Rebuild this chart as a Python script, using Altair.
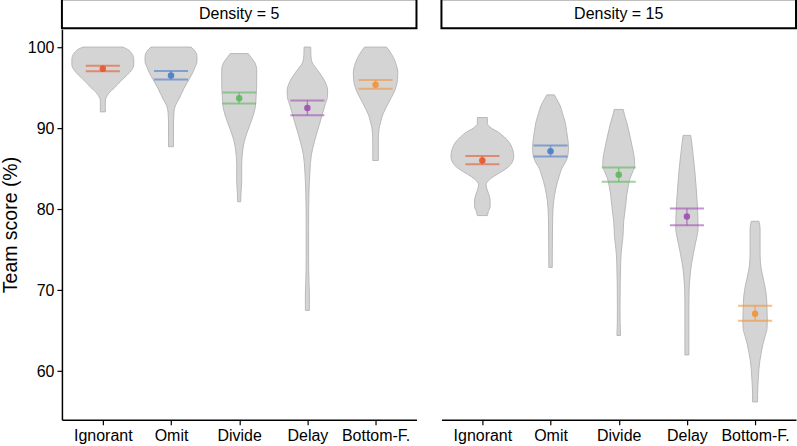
import altair as alt
import pandas as pd

# ---------------------------------------------------------------- data
categories = ["Ignorant", "Omit", "Divide", "Delay", "Bottom-F."]
palette = ["#E4572E", "#4A7CC9", "#5DB85D", "#9E4FB0", "#F39237"]

# mean team score with 95% CI, per strategy
mean_d5 = [97.33, 96.50, 93.67, 92.49, 95.36]
ci_lo_d5 = [97.00, 96.00, 93.02, 91.58, 94.87]
ci_hi_d5 = [97.70, 97.05, 94.38, 93.40, 95.94]

mean_d15 = [86.00, 87.15, 84.25, 79.08, 67.09]
ci_lo_d15 = [85.55, 86.50, 83.38, 78.00, 66.23]
ci_hi_d15 = [86.54, 87.85, 85.14, 80.06, 68.07]

# violin outlines: score levels and kernel density (relative) at each level
d5_ignorant_score = [100.0, 99.7, 99.2, 98.5, 97.8, 97.2, 96.5, 95.8, 95.0, 94.3, 93.8, 93.4, 92.5, 92.0]
d5_ignorant_dens = [20, 25, 29, 31, 31, 29, 24, 18, 12, 6, 3.5, 2.5, 2.5, 2.5]

d5_omit_score = [100.0, 99.5, 98.8, 98.2, 97.5, 96.9, 96.0, 94.9, 93.6, 92.8, 92.0, 90.5, 89.0, 87.7]
d5_omit_dens = [20, 24, 26, 26, 24, 22, 18, 13, 8, 4.5, 3, 2.5, 2.5, 2.5]

d5_divide_score = [99.2, 98.7, 98.0, 97.2, 95.5, 94.0, 92.5, 91.0, 89.5, 88.3, 87.2, 85.5, 83.5, 82.0, 80.9]
d5_divide_dens = [9, 12, 16, 17.5, 17.5, 17, 16, 12.5, 8, 5, 3.5, 2.5, 2.5, 1.8, 1.5]

d5_delay_score = [100.0, 99.0, 98.2, 97.5, 96.9, 96.2, 95.5, 94.6, 93.8, 92.8, 91.5, 90.3, 89.2, 88.3,
                  86.7, 84.6, 82.0, 78.0, 74.0, 71.0, 69.5, 68.2, 67.5]
d5_delay_dens = [3.3, 3.5, 4.5, 8, 11.7, 15.5, 18.5, 20.3, 20, 17.5, 14.5, 11.7, 9, 7,
                 4, 2.5, 1.6, 1.2, 1.2, 1.6, 2, 2, 2]

d5_bottom_score = [100.0, 99.5, 98.6, 97.7, 96.9, 96.0, 95.3, 94.3, 93.2, 92.4, 91.6, 90.7, 89.9, 88.5, 87.0, 86.0]
d5_bottom_dens = [11, 14, 18.3, 21, 22.3, 22, 21, 18, 13.3, 10, 7, 5, 3.5, 2.8, 2.8, 2.8]

d15_ignorant_score = [91.3, 90.6, 90.0, 89.5, 88.9, 88.3, 87.5, 86.5, 85.8, 85.2, 84.6, 84.0, 83.5, 83.0,
                      82.5, 81.8, 81.0, 80.3, 79.7, 79.2]
d15_ignorant_dens = [5, 5, 9, 16, 22, 26.5, 30, 31.5, 30, 26, 19, 11, 6, 3.8,
                     4.5, 6.5, 7.8, 7.8, 6, 5]

d15_omit_score = [94.1, 93.5, 92.8, 91.8, 90.8, 89.7, 88.7, 87.7, 86.7, 85.8, 85.0, 84.2, 83.4, 82.5,
                  81.7, 80.1, 78.0, 75.0, 72.8]
d15_omit_dens = [3.7, 6.5, 9.5, 12, 14.5, 16, 17.2, 18, 17.5, 15, 11.2, 9, 7, 5.2,
                 4, 2.5, 2, 1.8, 1.7]

d15_divide_score = [92.3, 91.5, 90.8, 89.8, 88.7, 87.7, 86.7, 85.4, 84.6, 83.8, 82.8, 81.7, 80.5, 79.5,
                    78.5, 77.5, 76.5, 75.5, 74.5, 73.5, 71.0, 68.0, 66.0, 64.4]
d15_divide_dens = [4.5, 6, 7.8, 9.8, 11.8, 13.5, 15.2, 16, 14, 11.3, 9.5, 8, 7, 6,
                   5, 4.6, 4.2, 3.2, 2.4, 2, 1.5, 1.3, 1.4, 1.8]

d15_delay_score = [89.1, 88.0, 86.7, 84.6, 82.6, 80.5, 79.0, 77.6, 76.6, 75.6, 74.5, 73.5, 72.5, 71.5,
                   70.0, 68.0, 65.3, 63.0, 62.0]
d15_delay_dens = [3.8, 5, 6.2, 8, 9.3, 10.5, 11, 11.2, 10, 8.3, 6.5, 5, 3.8, 3,
                  2.2, 2, 2, 2, 2]

d15_bottom_score = [78.5, 77.6, 76.5, 75.6, 74.5, 73.5, 72.5, 71.5, 70.5, 69.4, 68.4, 67.4, 66.3, 65.3,
                    64.3, 63.3, 62.2, 61.2, 60.2, 59.2, 58.2, 57.1, 56.2]
d15_bottom_dens = [3.8, 5, 5, 5, 5, 5.3, 6.3, 8, 9.8, 11.2, 11.8, 12, 12.2, 12,
                   10, 7.8, 6, 4.7, 3.8, 3.3, 2.8, 2.5, 2.5]

outlines = {
    5: [(d5_ignorant_score, d5_ignorant_dens), (d5_omit_score, d5_omit_dens),
        (d5_divide_score, d5_divide_dens), (d5_delay_score, d5_delay_dens),
        (d5_bottom_score, d5_bottom_dens)],
    15: [(d15_ignorant_score, d15_ignorant_dens), (d15_omit_score, d15_omit_dens),
         (d15_divide_score, d15_divide_dens), (d15_delay_score, d15_delay_dens),
         (d15_bottom_score, d15_bottom_dens)],
}
summaries = {5: (mean_d5, ci_lo_d5, ci_hi_d5), 15: (mean_d15, ci_lo_d15, ci_hi_d15)}

DENS_TO_X = 1 / 68.3   # density units -> category-axis units
CAP = 0.25             # half-width of the CI caps

# ---------------------------------------------------------------- styling
FONT = "Liberation Sans"
PANEL_W, PANEL_H = 355, 391
x_scale = alt.Scale(domain=[0.4, 5.6], nice=False, zero=False)
y_scale = alt.Scale(domain=[54.0, 102.2], nice=False, zero=False)
color_scale = alt.Scale(domain=categories, range=palette)

label_expr = "[" + ",".join(f"'{c}'" for c in categories) + "][datum.value - 1]"
x_axis = alt.Axis(values=[1, 2, 3, 4, 5], labelExpr=label_expr, title=None, grid=False,
                  domainColor="black", domainWidth=1.5, tickColor="black", tickWidth=1.2,
                  tickSize=5, labelPadding=3, labelColor="black", labelFont=FONT,
                  labelFontSize=16)
y_axis_left = alt.Axis(values=[60, 70, 80, 90, 100], title="Team score (%)", grid=False,
                       domainColor="black", domainWidth=1.5, tickColor="black", tickWidth=1.2,
                       tickSize=5, labelPadding=3, labelColor="black", labelFont=FONT,
                       labelFontSize=16, titleFont=FONT, titleFontSize=19.5,
                       titleFontWeight="normal", titleColor="black",
                       titleX=-45, titleY=PANEL_H / 2, titleBaseline="alphabetic",
                       titleAlign="center")


def panel(density, y_axis):
    rows = []
    for i, (scores, dens) in enumerate(outlines[density]):
        for s, d in zip(scores, dens):
            rows.append({"cat": categories[i], "idx": i + 1, "score": s,
                         "lo": i + 1 - d * DENS_TO_X, "hi": i + 1 + d * DENS_TO_X})
    vdf = pd.DataFrame(rows)

    means, los, his = summaries[density]
    sdf = pd.DataFrame({"cat": categories, "idx": [1, 2, 3, 4, 5],
                        "mean": means, "ci_lo": los, "ci_hi": his})
    sdf["cap_l"] = sdf["idx"] - CAP
    sdf["cap_r"] = sdf["idx"] + CAP

    violins = alt.Chart(vdf).mark_area(
        orient="horizontal", interpolate="monotone",
        fill="#d4d4d4", stroke="#b3b3b3", strokeWidth=0.9
    ).encode(
        y=alt.Y("score:Q", scale=y_scale, axis=y_axis),
        x=alt.X("lo:Q", scale=x_scale, axis=x_axis),
        x2="hi:Q",
        detail="cat:N",
    )

    color = alt.Color("cat:N", scale=color_scale, legend=None)
    base = alt.Chart(sdf)
    stem = base.mark_rule(strokeWidth=1.5, opacity=0.6).encode(
        x=alt.X("idx:Q", scale=x_scale, axis=x_axis),
        y=alt.Y("ci_lo:Q", scale=y_scale, axis=y_axis), y2="ci_hi:Q", color=color)
    cap_low = base.mark_rule(strokeWidth=2, opacity=0.6).encode(
        x=alt.X("cap_l:Q", scale=x_scale, axis=x_axis), x2="cap_r:Q",
        y=alt.Y("ci_lo:Q", scale=y_scale, axis=y_axis), color=color)
    cap_high = base.mark_rule(strokeWidth=2, opacity=0.6).encode(
        x=alt.X("cap_l:Q", scale=x_scale, axis=x_axis), x2="cap_r:Q",
        y=alt.Y("ci_hi:Q", scale=y_scale, axis=y_axis), color=color)
    dots = base.mark_circle(size=42, opacity=0.9).encode(
        x=alt.X("idx:Q", scale=x_scale, axis=x_axis),
        y=alt.Y("mean:Q", scale=y_scale, axis=y_axis), color=color)

    strip_df = pd.DataFrame({"label": [f"Density = {density}"]})
    strip_box = alt.Chart(strip_df).mark_rect(
        fill="white", stroke="black", strokeWidth=2
    ).encode(x=alt.value(0), x2=alt.value(PANEL_W), y=alt.value(-30), y2=alt.value(-1))
    strip_text = alt.Chart(strip_df).mark_text(
        font=FONT, fontSize=16, color="black", baseline="middle", align="center"
    ).encode(x=alt.value(PANEL_W / 2), y=alt.value(-15), text="label:N")

    return alt.layer(violins, stem, cap_low, cap_high, dots, strip_box, strip_text).properties(
        width=PANEL_W, height=PANEL_H)


left = panel(5, y_axis_left)
right = panel(15, None)

chart = alt.hconcat(left, right, spacing=25, bounds="flush").properties(
    padding={"left": 1, "top": -2, "right": 0, "bottom": 0},
    background="white",
).configure_view(stroke="transparent", strokeWidth=0)

chart.save("out.html", embed_options={"renderer": "svg", "actions": False})
